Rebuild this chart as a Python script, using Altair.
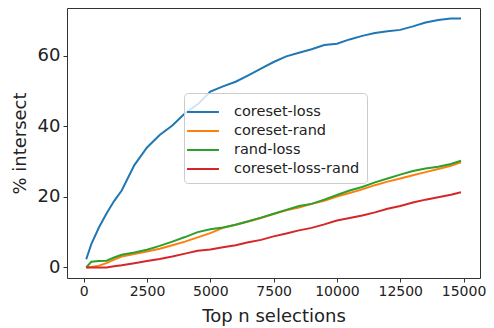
import altair as alt
import pandas as pd

x_vals = [100, 300, 600, 900, 1200, 1500, 2000, 2500, 3000, 3500, 4000, 4500,
          5000, 5500, 6000, 6500, 7000, 7500, 8000, 8500, 9000, 9500, 10000,
          10500, 11000, 11500, 12000, 12500, 13000, 13500, 14000, 14500, 14900]

coreset_loss = [2.3, 6.6, 11.3, 15.3, 18.8, 21.8, 29.0, 34.0, 37.5, 40.2, 43.7, 46.2,
                49.8, 51.3, 52.6, 54.4, 56.3, 58.2, 59.8, 60.8, 61.8, 63.0, 63.4,
                64.6, 65.6, 66.4, 66.9, 67.3, 68.3, 69.4, 70.1, 70.5, 70.5]
coreset_rand = [0.0, 0.1, 0.5, 1.2, 2.2, 3.1, 3.8, 4.5, 5.3, 6.3, 7.3, 8.5,
                9.7, 11.2, 12.1, 13.0, 14.0, 15.1, 16.2, 17.0, 18.0, 18.9, 20.1,
                21.1, 22.1, 23.3, 24.3, 25.2, 26.1, 27.0, 27.9, 28.8, 29.8]
rand_loss = [0.0, 1.6, 1.8, 1.9, 2.8, 3.6, 4.2, 5.0, 6.1, 7.3, 8.6, 10.0,
             10.8, 11.3, 12.1, 13.1, 14.1, 15.2, 16.3, 17.4, 18.0, 19.2, 20.5,
             21.8, 22.8, 24.1, 25.2, 26.3, 27.3, 28.0, 28.5, 29.3, 30.2]
coreset_loss_rand = [0.0, 0.0, 0.0, 0.0, 0.3, 0.6, 1.2, 1.8, 2.4, 3.1, 3.9, 4.7,
                     5.1, 5.7, 6.3, 7.1, 7.8, 8.8, 9.6, 10.5, 11.2, 12.2, 13.3,
                     14.0, 14.7, 15.6, 16.6, 17.4, 18.4, 19.2, 19.9, 20.6, 21.3]

series_names = ["coreset-loss", "coreset-rand", "rand-loss", "coreset-loss-rand"]
series_values = [coreset_loss, coreset_rand, rand_loss, coreset_loss_rand]
colors = ["#1f77b4", "#ff7f0e", "#2ca02c", "#d62728"]
x_ticks = [0, 2500, 5000, 7500, 10000, 12500, 15000]
y_ticks = [0, 20, 40, 60]

rows = []
for name, vals in zip(series_names, series_values):
    for xv, yv in zip(x_vals, vals):
        rows.append({"n": xv, "pct": yv, "series": name})
df = pd.DataFrame(rows)

font = "DejaVu Sans"
txt = "#222222"

chart = alt.Chart(df).mark_line(strokeWidth=2, clip=True).encode(
    x=alt.X("n:Q", scale=alt.Scale(domain=[-660, 15650], nice=False, zero=False),
            axis=alt.Axis(title="Top n selections", values=x_ticks, format="d",
                          labelFontSize=14, titleFontSize=18, labelPadding=2,
                          titlePadding=9, grid=False, domain=False,
                          tickSize=4, tickColor="#333333", labelColor=txt,
                          titleColor=txt, labelFont=font, titleFont=font,
                          titleFontWeight="normal", labelFlush=False)),
    y=alt.Y("pct:Q", scale=alt.Scale(domain=[-3.0, 73.5], nice=False, zero=False),
            axis=alt.Axis(title="% intersect", values=y_ticks,
                          labelFontSize=18, titleFontSize=18, labelPadding=3,
                          titlePadding=8, grid=False, domain=False,
                          tickSize=4, tickColor="#333333", labelColor=txt,
                          titleColor=txt, labelFont=font, titleFont=font,
                          titleFontWeight="normal")),
    color=alt.Color("series:N",
                    scale=alt.Scale(domain=series_names, range=colors),
                    legend=alt.Legend(orient="none", legendX=117, legendY=85,
                                      title=None, symbolType="M-1.45,0L1.45,0",
                                      symbolSize=484, symbolStrokeWidth=2,
                                      labelFontSize=14.5, labelFont=font,
                                      labelColor=txt, labelOffset=19,
                                      fillColor="rgba(255,255,255,0.8)",
                                      strokeColor="#cccccc", cornerRadius=4,
                                      padding=7, rowPadding=0, labelLimit=300)),
    order=alt.Order("n:Q"),
).properties(
    width=413, height=270,
    autosize=alt.AutoSizeParams(type="none"),
    padding={"left": 59, "top": 0, "right": 6, "bottom": 54},
).configure_view(stroke="#333333", strokeWidth=1)

chart.save("out.html", embed_options={"renderer": "svg", "actions": False})
